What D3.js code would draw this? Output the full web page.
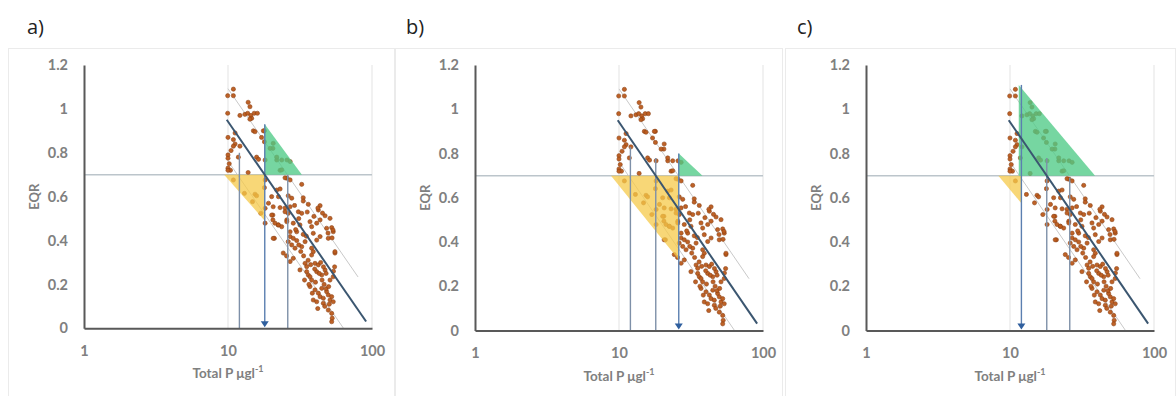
<!DOCTYPE html>
<html><head><meta charset="utf-8">
<script src="https://cdn.jsdelivr.net/npm/d3@7"></script>
<style>
html,body{margin:0;padding:0;background:#fff;}
svg{display:block;}
</style></head>
<body>
<svg id="chart" width="1176" height="396"></svg>
<script>
// ---------------- data ----------------
const panelLabels = ["a)", "b)", "c)"];
const xTicks = [1, 10, 100];
const yTicks = [0, 0.2, 0.4, 0.6, 0.8, 1, 1.2];
const yTickLabels = ["0", "0.2", "0.4", "0.6", "0.8", "1", "1.2"];
const xAxisTitle = "Total P μgl";
const xAxisTitleSup = "-1";
const yAxisTitle = "EQR";
const eqrThreshold = 0.7;

// observed lakes: [Total P (µg/l), EQR]
const points = [
 [10.9,1.09],[9.95,1.06],[10.9,1.06],[13.8,1.03],[14.2,1.01],[9.95,0.98],
 [12.1,0.97],[13.1,0.975],[13.7,0.98],[14.4,0.97],[15.2,0.98],[16.0,0.98],[14.6,0.957],[14.2,0.953],
 [15.0,0.90],[17.9,0.90],[11.2,0.89],[17.1,0.87],[17.9,0.85],[15.4,0.896],[17.6,0.9],
 [10.9,0.86],[11.2,0.84],[10.9,0.83],[12.1,0.83],[20.5,0.82],[10.0,0.79],[10.0,0.775],[11.8,0.78],
 [15.8,0.78],[16.3,0.77],[18.1,0.767],[21.8,0.767],[25.7,0.767],[10.0,0.73],
 [10.0,0.87],[10.5,0.81],[10.2,0.75],[10.4,0.72],
 [19.6,0.82],[21.8,0.78],[20.6,0.843],[23.6,0.767],[27.0,0.76],[23.0,0.72],
 [10.0,0.72],[13.8,0.71],[10.9,0.676],[13.0,0.615],[15.4,0.611],[14.8,0.577],[15.8,0.604],
 [18.1,0.676],[17.9,0.641],[16.9,0.524],[18.1,0.547],[19.1,0.57],[21.8,0.63],[22.4,0.60],
 [20.5,0.516],[20.5,0.494],[22.3,0.471],[23.6,0.463],[18.1,0.479],[21.0,0.410],[24.9,0.548],
 [26.2,0.524],[25.6,0.684],[27.0,0.676],[27.7,0.593],[25.6,0.494],[27.0,0.44],[23.6,0.722],
 [24.9,0.686],[32.5,0.656],[23.0,0.635],[20.1,0.60],[26.2,0.604],[33.3,0.595],
 [33.3,0.58],[36.1,0.565],[20.6,0.554],[23.0,0.55],[24.9,0.531],[27.0,0.554],[30.8,0.531],[32.5,0.524],
 [43.6,0.559],[42.4,0.539],[47.2,0.513],[51.1,0.501],[20.1,0.516],[21.2,0.479],[22.4,0.471],[25.6,0.486],
 [28.4,0.479],[31.6,0.471],[37.1,0.486],[41.3,0.479],[38.1,0.463],[48.4,0.456],[52.5,0.459],[53.8,0.44],
 [30.0,0.44],[33.3,0.428],[39.1,0.433],[43.6,0.418],[27.0,0.418],[28.4,0.41],[20.6,0.41],[49.7,0.41],[41.3,0.402],
 [49.5,0.434],[53.6,0.448],[52.8,0.412],[42.1,0.548],[45.3,0.525],[43.6,0.494],[55.3,0.343],
 [26.2,0.395],[27.7,0.38],[29.2,0.365],[32.5,0.372],[34.3,0.395],[38.1,0.365],[39.1,0.349],[38.1,0.334],
 [28.4,0.319],[27.0,0.304],[34.3,0.296],[35.2,0.281],[40.2,0.296],[42.4,0.289],[55.3,0.349],[31.6,0.266],
 [35.2,0.258],[36.1,0.243],[37.1,0.235],[38.1,0.22],[41.3,0.258],[44.8,0.243],[47.2,0.266],[51.1,0.22],
 [53.8,0.235],[37.1,0.19],[40.2,0.175],[42.4,0.16],[43.6,0.144],[45.9,0.137],[44.8,0.182],[48.4,0.167],
 [49.7,0.152],[51.1,0.129],[52.5,0.144],[53.8,0.121],[39.1,0.129],[41.3,0.121],[45.9,0.114],[49.7,0.083],
 [52.5,0.068],[52.9,0.046],[52.5,0.03],
 [30.0,0.40],[31.0,0.38],[32.0,0.35],[33.5,0.33],[36.0,0.31],[37.5,0.29],[40.0,0.27],[43.0,0.25],
 [45.0,0.22],[46.5,0.20],[48.0,0.18],[40.5,0.21],[36.5,0.20],[44.0,0.30],[46.0,0.28],[48.0,0.25],
 [50.0,0.19],[55.0,0.28],[54.0,0.26],[42.0,0.09],[47.0,0.10],[50.5,0.11],[38.5,0.16],[34.0,0.22],
 [24.2,0.343],[25.5,0.33],[29.5,0.45],[35.0,0.42],[31.0,0.50],[29.0,0.56],[35.5,0.53],[39.5,0.51]
];

// regression of EQR on log10(TP): EQR = intercept + slope*log10(TP)
const regIntercept = 1.892;
const regSlope = -0.95;
const regRange = [9.8, 91];
const upperOffset = 0.15, upperRange = [10, 80];
const lowerOffset = -0.18, lowerRange = [10, 63.4];

// vertical guide lines (TP where lower, central, upper lines meet EQR 0.7)
const guideTP = [12, 18, 26];
const guideTops = [[0.80, 0.93, 0.70], [0.83, 0.78, 0.80], [1.11, 0.78, 0.69]];
const arrowTP = [18, 26, 12];

// shaded triangles per panel: [TP, EQR] vertices
const greenTriangles = [
 [[18, 0.93], [18, 0.70], [32.6, 0.70]],
 [[26, 0.80], [26, 0.70], [38, 0.70]],
 [[11.5, 1.11], [11.5, 0.70], [39, 0.70]]
];
const yellowTriangles = [
 [[9.4, 0.70], [18, 0.70], [18, 0.49]],
 [[8.8, 0.70], [26, 0.70], [26, 0.32]],
 [[8.3, 0.70], [12, 0.70], [12, 0.575]]
];

// ---------------- layout ----------------
const layout = [
 {labelX: 27, box: [8, 395], xr: [84, 372], yr: [328.3, 65]},
 {labelX: 406, box: [395, 783], xr: [475, 763], yr: [330.5, 65]},
 {labelX: 797, box: [785, 1176], xr: [866, 1154], yr: [330.5, 65]}
];

const svg = d3.select("#chart");
const tickFont = "Lato, 'Open Sans', sans-serif";
const grey = "#808080";

layout.forEach((L, i) => {
  const g = svg.append("g");
  const x = d3.scaleLog().domain([1, 100]).range(L.xr);
  const y = d3.scaleLinear().domain([0, 1.2]).range(L.yr);

  // panel box
  g.append("rect").attr("x", L.box[0] + 0.5).attr("y", 48.5)
    .attr("width", L.box[1] - L.box[0] - 1).attr("height", 360)
    .attr("fill", "none").attr("stroke", "#ebebeb").attr("stroke-width", 1);

  // panel label
  g.append("text").attr("x", L.labelX).attr("y", 34).text(panelLabels[i])
    .attr("font-family", "'Open Sans', sans-serif").attr("font-size", 20).attr("fill", "#222");

  // vertical gridlines
  g.selectAll(".grid").data(xTicks.slice(1)).join("line")
    .attr("x1", d => x(d)).attr("x2", d => x(d))
    .attr("y1", y(1.2)).attr("y2", y(0))
    .attr("stroke", "#e3e3e3").attr("stroke-width", 1);

  // threshold line
  g.append("line").attr("x1", x(1)).attr("x2", x(100))
    .attr("y1", y(eqrThreshold)).attr("y2", y(eqrThreshold))
    .attr("stroke", "#bcc5cb").attr("stroke-width", 1.5);

  const lineFn = off => t => regIntercept + off + regSlope * Math.log10(t);
  // interval lines
  [[upperOffset, upperRange], [lowerOffset, lowerRange]].forEach(([off, rng]) => {
    const f = lineFn(off);
    g.append("line").attr("x1", x(rng[0])).attr("y1", y(f(rng[0])))
      .attr("x2", x(rng[1])).attr("y2", y(f(rng[1])))
      .attr("stroke", "#c9c9c9").attr("stroke-width", 1);
  });

  // points
  g.selectAll(".pt").data(points).join("circle")
    .attr("cx", d => x(d[0])).attr("cy", d => y(d[1])).attr("r", 2.1)
    .attr("fill", "#bb5a1c").attr("stroke", "#8c3f12").attr("stroke-width", 0.6)
    .attr("opacity", 0.95);

  // triangles
  const tri = d3.line().x(d => x(d[0])).y(d => y(d[1]));
  g.append("path").attr("d", tri(yellowTriangles[i]) + "Z")
    .attr("fill", "#f6c94a").attr("opacity", 0.75);
  g.append("path").attr("d", tri(greenTriangles[i]) + "Z")
    .attr("fill", "#4fcb86").attr("opacity", 0.78);

  // vertical guides
  guideTP.forEach((t, k) => {
    const isArrow = t === arrowTP[i];
    g.append("line").attr("x1", x(t)).attr("x2", x(t))
      .attr("y1", y(guideTops[i][k])).attr("y2", isArrow ? y(0) - 5 : y(0))
      .attr("stroke", isArrow ? "#5b7fb0" : "#7e90a8").attr("stroke-width", 1.4);
    if (isArrow) {
      const cx = x(t), by = y(0);
      g.append("path").attr("d", `M${cx - 4},${by - 7}L${cx + 4},${by - 7}L${cx},${by - 1}Z`)
        .attr("fill", "#2f5f9e");
    }
  });

  // regression line
  const fm = lineFn(0);
  g.append("line").attr("x1", x(regRange[0])).attr("y1", y(fm(regRange[0])))
    .attr("x2", x(regRange[1])).attr("y2", y(fm(regRange[1])))
    .attr("stroke", "#3b5670").attr("stroke-width", 2);

  // axes
  const xAxis = d3.axisBottom(x).tickValues(xTicks).tickFormat(d3.format("d")).tickSize(0).tickPadding(17);
  const gx = g.append("g").attr("transform", `translate(0,${y(0)})`).call(xAxis);
  const yAxis = d3.axisLeft(y).tickValues(yTicks).tickFormat((d, j) => yTickLabels[j]).tickSize(0).tickPadding(16);
  const gy = g.append("g").attr("transform", `translate(${x(1)},0)`).call(yAxis);
  [gx, gy].forEach(a => {
    a.select(".domain").attr("stroke", "#595959").attr("stroke-width", 2);
    a.selectAll("text").attr("font-family", tickFont).attr("font-weight", "bold")
      .attr("font-size", 14.5).attr("fill", grey);
  });

  // axis titles
  const xt = g.append("text").attr("x", x(10)).attr("y", y(0) + 50)
    .attr("text-anchor", "middle").attr("font-family", tickFont).attr("font-weight", "bold")
    .attr("font-size", 13.5).attr("fill", grey);
  xt.append("tspan").text(xAxisTitle);
  xt.append("tspan").text(xAxisTitleSup).attr("font-size", 9).attr("dy", -6);

  g.append("text").attr("transform", `translate(${x(1) - 50},${y(0.6)}) rotate(-90)`)
    .attr("text-anchor", "middle").attr("dy", "0.35em").text(yAxisTitle)
    .attr("font-family", tickFont).attr("font-weight", "bold").attr("font-size", 13).attr("fill", grey);
});
</script>
</body></html>
